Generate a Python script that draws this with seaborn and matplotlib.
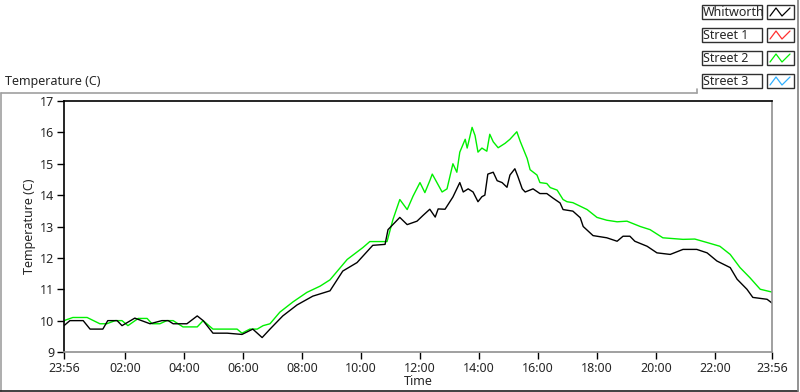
import numpy as np
import pandas as pd
import matplotlib
matplotlib.use("Agg")
import matplotlib.pyplot as plt
from matplotlib.patches import Rectangle
from matplotlib.lines import Line2D
import seaborn as sns

# minutes after 23:56 (start of record) and temperature (C)
whit_min = [0, 12, 39, 53, 79, 89, 108, 118, 144, 175, 199, 212, 222, 250, 271, 283,
            303, 332, 362, 384, 403, 419, 445, 474, 506, 541, 567, 596, 628, 653, 659,
            683, 698, 718, 730, 744, 755, 761, 775, 791, 805, 812, 822, 832, 842, 850,
            856, 862, 873, 881, 891, 901, 907, 917, 923, 932, 938, 954, 968, 982, 995,
            1009, 1015, 1035, 1050, 1056, 1076, 1104, 1125, 1137, 1151, 1161, 1186, 1206,
            1233, 1259, 1287, 1308, 1328, 1355, 1369, 1389, 1401, 1430, 1440]
whit_val = [9.84, 10.0, 10.0, 9.73, 9.73, 10.0, 10.0, 9.84, 10.08, 9.9, 10.0, 10.0, 9.9, 9.9, 10.15, 10.0,
            9.6, 9.6, 9.56, 9.73, 9.46, 9.73, 10.15, 10.5, 10.78, 10.95, 11.58, 11.85, 12.4, 12.43, 12.9,
            13.29, 13.06, 13.17, 13.35, 13.55, 13.3, 13.56, 13.55, 13.94, 14.4, 14.1, 14.2, 14.1, 13.79, 13.95,
            14.0, 14.67, 14.73, 14.46, 14.4, 14.25, 14.64, 14.84, 14.6, 14.2, 14.1, 14.2, 14.05, 14.05, 13.9,
            13.75, 13.54, 13.49, 13.28, 13.0, 12.71, 12.64, 12.53, 12.69, 12.69, 12.53, 12.37, 12.16,
            12.11, 12.27, 12.27, 12.16, 11.9, 11.69, 11.32, 11.0, 10.74, 10.68, 10.56]

st2_min = [0, 18, 47, 73, 87, 104, 118, 130, 151, 169, 179, 195, 209, 222, 242, 271, 283,
           303, 352, 362, 378, 393, 405, 419, 439, 466, 494, 521, 541, 576, 608, 622, 657,
           669, 683, 698, 710, 724, 734, 744, 749, 755, 769, 779, 791, 799, 805, 816, 820,
           830, 836, 842, 850, 860, 866, 873, 883, 897, 907, 921, 928, 942, 948, 962, 968,
           982, 989, 1003, 1015, 1023, 1035, 1064, 1084, 1104, 1125, 1145, 1172, 1192, 1218,
           1259, 1283, 1310, 1334, 1355, 1375, 1395, 1416, 1440]
st2_val = [10.0, 10.1, 10.1, 9.9, 9.9, 10.0, 10.0, 9.84, 10.07, 10.07, 9.9, 9.9, 10.0, 10.0, 9.8, 9.8, 10.0,
           9.73, 9.73, 9.6, 9.73, 9.73, 9.84, 9.9, 10.27, 10.6, 10.9, 11.1, 11.3, 11.95, 12.33, 12.52, 12.52,
           13.22, 13.86, 13.54, 13.97, 14.4, 14.08, 14.46, 14.67, 14.5, 14.1, 14.2, 15.0, 14.73, 15.37, 15.78, 15.5,
           16.16, 15.9, 15.37, 15.5, 15.4, 15.94, 15.7, 15.51, 15.65, 15.78, 16.02, 15.71, 15.17, 14.81, 14.64, 14.4,
           14.37, 14.24, 14.16, 13.86, 13.79, 13.76, 13.54, 13.29, 13.2, 13.15, 13.17, 13.0, 12.9, 12.64,
           12.59, 12.6, 12.48, 12.37, 12.11, 11.69, 11.37, 11.0, 10.91]

legend_names = ["Whitworth", "Street 1", "Street 2", "Street 3"]
legend_colors = ["#000000", "#ff3030", "#00f000", "#30b0ff"]

tick_min = [0, 124, 244, 364, 484, 604, 724, 844, 964, 1084, 1204, 1324, 1440]
tick_lab = ["23:56", "02:00", "04:00", "06:00", "08:00", "10:00", "12:00", "14:00",
            "16:00", "18:00", "20:00", "22:00", "23:56"]
y_ticks = [9, 10, 11, 12, 13, 14, 15, 16, 17]

df = pd.concat([
    pd.DataFrame({"min": whit_min, "temp": whit_val, "series": "Whitworth"}),
    pd.DataFrame({"min": st2_min, "temp": st2_val, "series": "Street 2"}),
])

sns.set_style("white")
plt.rcParams["font.family"] = ["Noto Sans", "DejaVu Sans"]
FS = 9

W, H = 800, 392
fig = plt.figure(figsize=(W / 100, H / 100), dpi=100)
ax = fig.add_axes([64 / W, 1 - 352 / H, (772 - 64) / W, (352 - 101) / H])

sns.lineplot(data=df, x="min", y="temp", hue="series",
             palette={"Whitworth": legend_colors[0], "Street 2": legend_colors[2]},
             hue_order=["Street 2", "Whitworth"], ax=ax, legend=False,
             linewidth=1.0, estimator=None, sort=False)

ax.set_xlim(0, 1440)
ax.set_ylim(9, 17)
ax.set_xticks(tick_min)
ax.set_xticklabels(tick_lab)
ax.set_xticks(list(range(4, 1440, 20)), minor=True)
ax.set_yticks(y_ticks)
ax.tick_params(axis="both", which="major", length=5, width=1, color="black",
               direction="out", pad=2, labelsize=FS)
ax.tick_params(axis="x", which="minor", length=3, width=1, color="black", direction="out")
ax.tick_params(axis="x", which="major", bottom=True)
ax.tick_params(axis="y", which="major", left=True)
ax.set_xlabel("Time", fontsize=FS, labelpad=0)
ax.set_ylabel("Temperature (C)", fontsize=FS, labelpad=3)
for s in ["left", "top"]:
    ax.spines[s].set_color("black")
    ax.spines[s].set_linewidth(1.2)
for s in ["right", "bottom"]:
    ax.spines[s].set_color("#909090")
    ax.spines[s].set_linewidth(1.2)

# outer panel frame (pixel coordinates)
def px(x, y):
    return x / W, 1 - y / H

def seg(x0, y0, x1, y1, color):
    fig.add_artist(Line2D([x0 / W, x1 / W], [1 - y0 / H, 1 - y1 / H], color=color, lw=1.2))

seg(1, 93, 697, 93, "#a0a0a0")
seg(1, 93, 1, 391, "#a0a0a0")
seg(0, 391, 798, 391, "#202020")
seg(798, 0, 798, 391, "#808080")
seg(697, 93, 697, 89, "#a0a0a0")

fig.text(px(5, 81)[0], px(5, 81)[1], "Temperature (C)", ha="left", va="center", fontsize=FS)

# legend boxes
row_top = [5, 28, 51, 74]
for name, col, top in zip(legend_names, legend_colors, row_top):
    x0, y0 = px(702, top + 14)
    fig.add_artist(Rectangle((x0, y0), 60 / W, 14 / H, facecolor="white",
                             edgecolor="#303030", lw=1.0))
    fig.text(px(703, top + 7.5)[0], px(703, top + 7.5)[1], name, ha="left", va="center",
             fontsize=FS)
    x1, y1 = px(767, top + 14)
    fig.add_artist(Rectangle((x1, y1), 27 / W, 14 / H, facecolor="white",
                             edgecolor="#303030", lw=1.0))
    zx = [770, 776, 782, 790]
    zy = [top + 11, top + 3, top + 11, top + 3]
    fig.add_artist(Line2D([a / W for a in zx], [1 - b / H for b in zy],
                          color=col, lw=0.9))

fig.savefig("out.png", dpi=100)
